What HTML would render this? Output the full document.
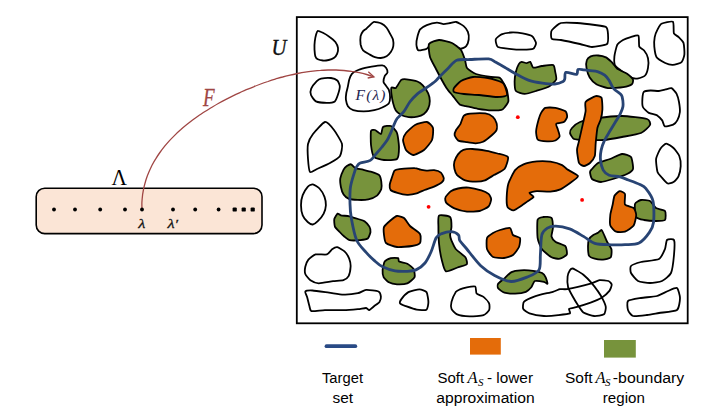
<!DOCTYPE html>
<html><head><meta charset="utf-8">
<style>
html,body{margin:0;padding:0;background:#fff;width:724px;height:417px;overflow:hidden}
svg{position:absolute;left:0;top:0}
.cal{font-family:"Liberation Sans",sans-serif;font-size:14px;fill:#000}
.ser{font-family:"Liberation Serif",serif;}
</style></head><body>
<svg width="724" height="417" viewBox="0 0 724 417">
<rect x="296.8" y="17.1" width="390.9" height="306.2" fill="#fff" stroke="#000" stroke-width="1.8"/>
<path d="M317.8,30.8 C318.5,30.6 321.7,32.2 322.9,32.8 C324.1,33.4 328.4,36.1 329.6,37.0 C330.9,37.9 334.6,40.9 335.4,42.0 C336.2,43.1 337.8,46.7 338.0,47.9 C338.2,49.1 337.5,52.8 337.1,53.8 C336.7,54.8 334.6,57.4 333.8,58.0 C333.0,58.6 329.8,59.8 328.7,60.0 C327.6,60.2 324.0,60.6 322.9,60.5 C321.8,60.4 318.6,59.7 317.8,59.3 C317.0,58.9 315.6,57.3 315.3,56.3 C315.0,55.3 314.6,51.1 314.5,49.6 C314.4,48.1 314.6,42.7 314.8,41.2 C315.0,39.7 315.8,35.5 316.1,34.5 C316.4,33.5 317.1,31.0 317.8,30.8Z" fill="#fff" stroke="#000" stroke-width="1.8" stroke-linejoin="round"/>
<path d="M374.0,21.9 C375.2,21.7 380.3,23.0 381.6,23.6 C382.9,24.2 385.8,26.7 386.6,27.7 C387.4,28.7 389.4,32.4 390.0,33.6 C390.6,34.8 392.7,38.2 393.0,39.5 C393.3,40.8 393.5,44.9 393.3,46.2 C393.1,47.5 391.5,51.1 390.8,52.1 C390.1,53.1 387.6,55.7 386.6,56.3 C385.6,56.9 382.0,57.9 380.8,58.0 C379.6,58.1 376.0,57.4 374.9,57.1 C373.8,56.8 371.1,55.3 369.9,54.6 C368.7,53.9 364.0,51.4 363.1,50.4 C362.2,49.4 360.9,45.9 360.6,44.5 C360.4,43.1 360.4,37.4 360.6,36.1 C360.9,34.8 362.5,31.9 363.1,31.1 C363.7,30.4 365.8,29.2 366.5,28.6 C367.2,28.0 369.1,25.9 369.9,25.2 C370.6,24.5 372.8,22.1 374.0,21.9Z" fill="#fff" stroke="#000" stroke-width="1.8" stroke-linejoin="round"/>
<path d="M420.1,29.4 C421.0,28.3 425.1,25.9 426.8,25.2 C428.5,24.5 435.2,22.8 436.9,22.7 C438.6,22.6 442.3,24.1 443.6,24.1 C444.9,24.1 449.0,23.2 450.3,23.0 C451.6,22.8 454.9,21.7 456.2,22.0 C457.5,22.3 462.5,25.1 463.7,26.1 C464.9,27.1 467.4,30.6 467.9,31.9 C468.4,33.2 468.9,38.1 468.7,39.5 C468.5,40.9 467.0,45.3 466.2,46.2 C465.4,47.1 461.8,48.8 460.4,48.7 C459.0,48.6 453.7,46.1 452.0,45.4 C450.3,44.7 445.6,42.2 443.6,42.0 C441.6,41.8 433.5,43.0 431.8,43.7 C430.1,44.4 428.1,48.0 426.8,48.7 C425.5,49.4 419.4,50.8 418.4,50.4 C417.4,50.0 416.5,45.9 416.4,44.5 C416.3,43.1 417.2,37.6 417.6,36.1 C418.0,34.6 419.2,30.5 420.1,29.4Z" fill="#fff" stroke="#000" stroke-width="1.8" stroke-linejoin="round"/>
<path d="M311.2,88.6 C311.8,87.2 315.8,82.1 316.8,81.1 C317.8,80.1 319.7,78.9 321.1,78.6 C322.5,78.3 329.4,77.8 331.0,78.0 C332.6,78.2 336.4,79.7 337.3,80.5 C338.2,81.3 339.7,84.7 339.8,86.1 C339.9,87.5 338.4,93.3 337.9,94.8 C337.4,96.3 335.9,100.7 334.8,101.5 C333.7,102.3 328.5,102.9 326.6,102.9 C324.7,102.9 317.5,102.2 315.9,101.4 C314.3,100.6 311.5,96.3 311.0,95.0 C310.5,93.7 310.6,90.0 311.2,88.6Z" fill="#fff" stroke="#000" stroke-width="1.8" stroke-linejoin="round"/>
<path d="M351.9,73.8 C352.7,72.9 355.8,71.1 357.1,70.5 C358.4,69.9 363.7,68.3 365.1,67.9 C366.6,67.5 369.9,66.9 371.6,66.6 C373.3,66.3 380.7,65.2 382.2,65.3 C383.7,65.4 385.7,67.2 386.2,67.9 C386.7,68.6 387.6,71.7 387.5,72.5 C387.4,73.3 385.2,74.9 384.8,75.8 C384.4,76.7 383.4,80.9 383.5,81.8 C383.6,82.7 385.0,84.3 385.5,85.1 C386.0,85.9 388.3,88.5 388.8,89.7 C389.3,91.0 390.1,96.2 390.1,97.6 C390.1,99.0 389.6,102.5 388.8,103.5 C388.0,104.5 383.6,106.8 382.2,107.5 C380.8,108.2 376.2,109.7 374.3,110.1 C372.4,110.5 365.8,111.4 363.7,111.4 C361.6,111.4 354.8,110.6 353.2,110.1 C351.6,109.6 348.6,107.2 347.9,106.2 C347.2,105.2 346.1,100.9 345.9,99.6 C345.7,98.3 346.1,94.3 346.3,93.0 C346.5,91.7 347.6,87.7 347.9,86.4 C348.2,85.1 348.8,81.1 349.2,79.8 C349.6,78.5 351.1,74.7 351.9,73.8Z" fill="#fff" stroke="#000" stroke-width="1.8" stroke-linejoin="round"/>
<path d="M495.8,39.2 C496.2,38.0 500.0,35.1 501.5,34.4 C503.0,33.7 509.0,32.6 511.1,32.5 C513.2,32.4 520.5,33.0 522.6,33.4 C524.7,33.8 530.9,35.3 532.2,36.3 C533.5,37.3 535.9,41.8 536.0,43.0 C536.1,44.2 534.5,48.1 533.2,48.8 C531.9,49.5 525.0,49.7 522.6,49.7 C520.2,49.7 511.7,49.1 509.2,48.8 C506.7,48.5 499.0,47.9 497.7,46.9 C496.4,45.9 495.4,40.5 495.8,39.2Z" fill="#fff" stroke="#000" stroke-width="1.8" stroke-linejoin="round"/>
<path d="M552.0,30.0 C553.0,28.9 558.5,23.7 561.0,23.0 C563.5,22.3 573.6,22.8 577.0,23.0 C580.4,23.2 592.1,24.6 595.0,25.0 C597.9,25.4 604.7,26.1 606.0,27.0 C607.3,27.9 607.9,32.3 608.0,34.0 C608.1,35.7 608.6,42.7 607.0,44.0 C605.4,45.3 594.7,47.0 592.0,47.0 C589.3,47.0 583.1,44.7 580.0,44.0 C576.9,43.3 563.8,40.5 561.0,40.0 C558.2,39.5 553.0,39.6 552.0,39.0 C551.0,38.4 551.0,34.9 551.0,34.0 C551.0,33.1 551.0,31.1 552.0,30.0Z" fill="#fff" stroke="#000" stroke-width="1.8" stroke-linejoin="round"/>
<path d="M657.6,29.4 C658.3,28.1 659.9,24.5 661.4,23.7 C662.9,22.9 671.6,20.8 672.9,21.8 C674.1,22.8 673.3,31.8 673.9,33.3 C674.5,34.8 677.7,36.1 678.7,37.1 C679.7,38.1 682.9,41.2 683.5,42.9 C684.1,44.6 684.6,52.5 684.4,54.4 C684.2,56.3 682.8,61.0 681.6,62.1 C680.5,63.2 674.5,64.8 672.9,64.9 C671.3,65.0 666.8,63.8 665.2,63.0 C663.6,62.2 657.7,58.9 656.6,57.3 C655.5,55.7 654.5,48.7 654.3,46.7 C654.1,44.7 654.4,38.8 654.7,37.1 C655.0,35.4 656.9,30.7 657.6,29.4Z" fill="#fff" stroke="#000" stroke-width="1.8" stroke-linejoin="round"/>
<path d="M614.4,56.3 C614.6,54.2 616.4,46.4 617.3,44.8 C618.2,43.2 621.7,40.8 623.0,40.0 C624.3,39.2 629.2,37.5 630.7,37.1 C632.2,36.7 637.5,34.6 638.4,35.6 C639.3,36.6 638.7,45.2 639.3,46.7 C639.9,48.2 643.2,49.4 644.1,50.5 C645.0,51.6 647.6,56.5 648.0,58.2 C648.4,59.9 648.3,66.1 648.0,67.8 C647.7,69.5 646.1,74.4 645.1,75.5 C644.1,76.6 639.8,78.2 638.4,78.4 C637.0,78.6 633.0,78.7 630.7,77.4 C628.4,76.2 617.0,68.0 615.4,65.9 C613.8,63.8 614.2,58.4 614.4,56.3Z" fill="#fff" stroke="#000" stroke-width="1.8" stroke-linejoin="round"/>
<path d="M643.8,91.9 C644.6,91.1 649.0,90.6 650.5,90.5 C652.0,90.4 657.4,91.1 658.9,91.0 C660.4,90.9 664.3,89.7 665.6,89.4 C666.9,89.1 670.4,87.8 671.5,88.2 C672.6,88.6 675.8,92.2 676.5,93.6 C677.2,95.0 678.7,100.2 679.0,102.0 C679.3,103.8 680.1,110.2 679.9,112.0 C679.7,113.8 678.0,119.1 677.3,120.4 C676.6,121.7 674.5,124.0 673.2,124.6 C672.0,125.2 665.9,126.7 664.8,126.3 C663.7,125.9 663.0,121.5 662.2,120.4 C661.4,119.3 658.5,116.2 657.2,115.4 C655.9,114.7 650.2,113.7 648.8,112.9 C647.4,112.1 643.5,108.4 642.9,107.0 C642.3,105.6 642.3,100.1 642.4,98.6 C642.5,97.1 643.0,92.7 643.8,91.9Z" fill="#fff" stroke="#000" stroke-width="1.8" stroke-linejoin="round"/>
<path d="M313.0,134.0 C314.7,131.8 322.9,122.4 325.0,122.0 C327.1,121.6 332.3,127.8 334.0,130.0 C335.7,132.2 341.4,141.4 342.0,144.0 C342.6,146.6 341.2,154.1 340.0,156.0 C338.8,157.9 332.3,161.7 330.0,163.0 C327.7,164.3 319.0,168.1 317.0,169.0 C315.0,169.9 310.9,173.0 310.0,172.0 C309.1,171.0 308.2,161.8 308.0,159.0 C307.8,156.2 307.5,146.5 308.0,144.0 C308.5,141.5 311.3,136.2 313.0,134.0Z" fill="#fff" stroke="#000" stroke-width="1.8" stroke-linejoin="round"/>
<path d="M302.7,195.2 C303.4,193.4 306.7,187.9 307.7,186.8 C308.7,185.7 311.6,184.1 312.8,184.3 C314.0,184.5 318.3,187.2 319.5,188.5 C320.7,189.8 323.9,195.2 324.5,196.9 C325.1,198.6 326.0,203.5 325.9,205.2 C325.8,206.9 324.5,212.0 323.7,213.6 C322.9,215.2 318.9,220.1 317.8,221.2 C316.7,222.3 313.8,224.4 312.8,224.5 C311.8,224.6 308.7,222.9 307.7,222.0 C306.7,221.1 303.4,217.0 302.7,215.3 C302.0,213.6 301.0,207.2 301.0,205.2 C301.0,203.2 302.0,197.0 302.7,195.2Z" fill="#fff" stroke="#000" stroke-width="1.8" stroke-linejoin="round"/>
<path d="M656.1,158.9 C656.4,156.6 659.4,150.2 660.4,148.7 C661.4,147.2 664.9,143.7 666.2,143.6 C667.5,143.5 672.2,146.8 673.5,148.0 C674.8,149.2 678.6,154.2 679.3,156.0 C680.0,157.8 680.8,164.1 680.7,166.1 C680.6,168.1 679.2,174.7 678.5,176.3 C677.8,177.9 674.6,181.4 673.5,182.1 C672.4,182.8 668.9,183.9 667.7,183.5 C666.5,183.1 662.9,178.9 661.9,177.7 C660.9,176.5 658.1,173.8 657.5,171.9 C656.9,170.0 655.8,161.2 656.1,158.9Z" fill="#fff" stroke="#000" stroke-width="1.8" stroke-linejoin="round"/>
<path d="M305.3,266.8 C305.6,265.4 307.4,260.8 308.4,259.6 C309.4,258.4 313.8,254.9 315.6,254.4 C317.5,253.9 325.2,254.9 326.9,254.4 C328.5,253.9 331.1,250.0 332.1,249.3 C333.1,248.6 336.0,247.0 337.2,247.2 C338.4,247.4 343.3,250.2 344.5,251.3 C345.7,252.4 348.6,257.1 349.2,258.6 C349.8,260.2 350.7,265.1 350.6,266.8 C350.5,268.6 349.3,274.8 348.6,276.1 C347.9,277.4 344.9,279.7 343.4,280.2 C341.8,280.7 335.6,280.9 333.1,281.2 C330.6,281.5 321.0,283.4 318.7,283.3 C316.4,283.2 311.7,281.1 310.4,280.2 C309.1,279.3 305.8,275.3 305.3,274.0 C304.8,272.7 305.0,268.2 305.3,266.8Z" fill="#fff" stroke="#000" stroke-width="1.8" stroke-linejoin="round"/>
<path d="M305.3,291.5 C305.8,290.8 310.1,290.4 312.5,290.5 C314.9,290.6 325.9,292.2 329.0,292.6 C332.1,293.0 340.5,294.5 343.4,294.6 C346.3,294.7 355.6,293.7 357.9,293.2 C360.2,292.7 364.0,290.1 366.1,289.9 C368.2,289.7 377.0,290.8 378.5,291.5 C380.0,292.2 380.8,295.7 380.9,296.7 C381.0,297.7 380.1,301.0 379.5,301.9 C378.9,302.8 375.4,305.2 374.4,306.0 C373.4,306.8 370.0,309.9 369.2,310.1 C368.4,310.3 367.2,308.1 366.1,308.0 C365.0,307.9 360.2,308.9 357.9,309.1 C355.6,309.3 346.7,310.0 343.4,310.1 C340.1,310.2 328.1,310.0 324.9,310.1 C321.7,310.2 313.1,311.5 311.5,311.1 C309.9,310.7 309.8,307.3 309.4,306.0 C309.0,304.7 307.7,299.1 307.3,297.7 C306.9,296.2 304.8,292.2 305.3,291.5Z" fill="#fff" stroke="#000" stroke-width="1.8" stroke-linejoin="round"/>
<path d="M401.4,299.1 C402.2,298.0 406.6,293.1 408.4,292.1 C410.2,291.1 417.7,289.4 419.5,289.4 C421.3,289.4 425.6,290.9 426.5,292.1 C427.4,293.4 428.4,300.1 428.4,301.9 C428.4,303.7 427.7,308.9 426.5,309.7 C425.3,310.5 418.8,310.1 416.7,309.7 C414.6,309.3 407.3,306.7 405.6,306.1 C403.9,305.5 400.4,304.0 400.0,303.3 C399.6,302.6 400.6,300.2 401.4,299.1Z" fill="#fff" stroke="#000" stroke-width="1.8" stroke-linejoin="round"/>
<path d="M451.5,301.9 C451.9,300.2 454.9,293.4 455.7,292.1 C456.5,290.9 458.8,289.9 459.9,289.4 C461.0,288.9 465.3,287.7 466.8,287.4 C468.3,287.1 474.2,286.0 475.2,286.6 C476.2,287.2 475.8,292.5 476.6,293.5 C477.4,294.5 482.2,295.9 483.5,296.9 C484.8,297.9 488.5,302.0 489.1,303.3 C489.7,304.6 489.7,309.0 489.1,310.2 C488.5,311.4 485.4,314.6 483.5,315.2 C481.6,315.8 472.2,316.5 469.6,316.4 C467.0,316.3 458.9,315.2 457.1,314.4 C455.3,313.6 452.1,310.1 451.5,308.8 C450.9,307.6 451.1,303.6 451.5,301.9Z" fill="#fff" stroke="#000" stroke-width="1.8" stroke-linejoin="round"/>
<path d="M631.0,266.0 C632.0,264.9 638.2,262.7 641.0,262.0 C643.8,261.3 656.6,260.3 659.0,259.0 C661.4,257.7 664.2,250.9 665.0,249.0 C665.8,247.1 666.1,240.9 667.0,240.0 C667.9,239.1 673.3,238.5 674.0,240.0 C674.7,241.5 674.3,251.7 674.0,255.0 C673.7,258.3 672.2,270.4 671.0,273.0 C669.8,275.6 664.1,280.0 662.0,281.0 C659.9,282.0 652.4,283.0 650.0,283.0 C647.6,283.0 639.9,282.0 638.0,281.0 C636.1,280.0 631.7,274.5 631.0,273.0 C630.3,271.5 630.0,267.1 631.0,266.0Z" fill="#fff" stroke="#000" stroke-width="1.8" stroke-linejoin="round"/>
<path d="M628.0,301.0 C629.3,299.8 638.1,298.5 641.0,298.0 C643.9,297.5 654.3,296.7 657.0,296.0 C659.7,295.3 666.0,291.8 668.0,291.0 C670.0,290.2 675.8,287.3 677.0,288.0 C678.2,288.7 680.0,295.8 680.0,298.0 C680.0,300.2 679.1,308.5 677.0,310.0 C674.9,311.5 662.0,312.5 659.0,313.0 C656.0,313.5 649.6,314.7 647.0,315.0 C644.4,315.3 634.9,316.5 633.0,316.0 C631.1,315.5 628.5,311.5 628.0,310.0 C627.5,308.5 626.7,302.2 628.0,301.0Z" fill="#fff" stroke="#000" stroke-width="1.8" stroke-linejoin="round"/>
<path d="M391.5,87.4 C391.9,86.8 394.8,88.8 395.8,88.0 C396.8,87.2 400.1,80.8 401.2,79.9 C402.3,79.0 405.0,79.1 406.6,79.3 C408.2,79.5 415.8,80.9 417.4,81.5 C419.0,82.1 421.7,84.1 422.8,85.3 C423.9,86.5 427.5,91.8 428.2,93.4 C428.9,95.0 429.8,99.4 429.8,100.9 C429.8,102.4 428.8,107.2 428.2,108.5 C427.6,109.8 425.0,113.1 423.9,113.9 C422.8,114.7 418.9,116.3 417.4,116.6 C415.9,116.9 410.4,117.3 408.8,117.1 C407.2,116.9 402.5,115.7 401.2,115.0 C399.9,114.3 396.6,111.8 395.8,110.6 C395.0,109.4 393.5,104.7 393.1,103.1 C392.7,101.5 391.7,96.0 391.5,94.4 C391.3,92.8 391.1,88.0 391.5,87.4Z" fill="#77933C" stroke="#000" stroke-width="1.8" stroke-linejoin="round"/>
<path d="M429.0,44.0 C429.9,42.3 436.7,40.1 439.0,40.0 C441.3,39.9 449.8,42.0 452.0,43.0 C454.2,44.0 459.7,48.3 461.0,50.0 C462.3,51.7 464.4,58.2 465.0,60.0 C465.6,61.8 465.9,66.6 467.0,68.0 C468.1,69.4 473.6,73.1 476.0,74.0 C478.4,74.9 488.6,76.6 491.0,77.0 C493.4,77.4 498.4,76.8 500.0,78.0 C501.6,79.2 505.9,87.1 506.7,89.4 C507.5,91.7 508.6,99.3 508.4,101.1 C508.2,102.9 505.4,106.3 504.7,107.2 C504.0,108.1 502.8,109.6 501.5,109.9 C500.2,110.2 494.2,110.5 491.8,110.4 C489.4,110.3 480.4,109.2 477.8,108.8 C475.2,108.4 467.7,106.5 465.9,106.1 C464.1,105.7 461.0,105.5 459.7,104.5 C458.4,103.5 454.3,97.8 453.0,96.1 C451.7,94.4 448.0,90.4 446.3,87.7 C444.6,85.0 437.6,72.1 436.0,69.0 C434.4,65.9 430.7,59.5 430.0,57.0 C429.3,54.5 428.1,45.7 429.0,44.0Z" fill="#77933C" stroke="#000" stroke-width="1.8" stroke-linejoin="round"/>
<path d="M518.8,64.1 C519.4,63.1 520.9,61.9 521.7,61.8 C522.5,61.7 525.6,63.2 526.5,63.2 C527.4,63.2 529.6,61.4 530.3,61.8 C531.0,62.2 532.1,67.2 533.2,67.6 C534.4,68.0 539.8,66.2 541.8,66.0 C543.8,65.8 552.0,64.5 553.3,65.1 C554.6,65.7 554.9,70.4 555.2,71.8 C555.5,73.2 556.8,78.1 556.2,79.5 C555.6,80.9 551.5,85.0 549.5,86.2 C547.5,87.4 538.5,90.2 536.0,91.0 C533.5,91.8 526.5,93.9 524.5,93.9 C522.5,93.9 516.9,92.2 515.9,91.0 C514.9,89.8 514.6,83.3 514.6,81.4 C514.6,79.5 515.5,73.5 515.9,71.8 C516.3,70.1 518.2,65.1 518.8,64.1Z" fill="#77933C" stroke="#000" stroke-width="1.8" stroke-linejoin="round"/>
<path d="M586.8,60.3 C587.2,59.1 589.6,56.9 590.7,56.4 C591.9,55.9 596.8,55.4 598.3,55.5 C599.8,55.6 604.6,56.7 606.0,57.4 C607.4,58.1 610.6,61.1 611.8,62.2 C612.9,63.4 616.0,67.8 617.5,68.9 C619.0,70.1 625.6,72.7 627.1,73.7 C628.6,74.8 632.4,78.4 632.9,79.4 C633.4,80.5 632.9,83.4 631.9,84.2 C630.9,85.0 625.7,86.7 623.3,87.1 C620.9,87.5 610.6,88.4 607.9,88.1 C605.2,87.8 598.2,85.3 596.4,84.2 C594.6,83.1 590.7,79.1 589.7,77.5 C588.7,75.9 586.8,69.6 586.5,67.9 C586.2,66.2 586.4,61.4 586.8,60.3Z" fill="#77933C" stroke="#000" stroke-width="1.8" stroke-linejoin="round"/>
<path d="M371.0,131.0 C371.4,129.5 374.0,129.7 375.0,130.0 C376.0,130.3 380.2,134.3 381.0,134.0 C381.8,133.7 382.0,127.8 383.0,127.0 C384.0,126.2 389.6,125.4 391.0,126.0 C392.4,126.6 396.2,130.9 397.0,133.0 C397.8,135.1 399.0,144.4 399.0,147.0 C399.0,149.6 398.5,157.7 397.0,159.0 C395.5,160.3 386.3,160.2 384.0,160.0 C381.7,159.8 375.3,158.5 374.0,157.0 C372.7,155.5 371.3,147.6 371.0,145.0 C370.7,142.4 370.6,132.5 371.0,131.0Z" fill="#77933C" stroke="#000" stroke-width="1.8" stroke-linejoin="round"/>
<path d="M351.1,164.3 C352.0,164.5 354.2,167.6 355.4,168.1 C356.6,168.6 361.4,169.3 363.0,169.7 C364.6,170.1 370.0,171.4 371.6,171.9 C373.2,172.4 378.2,174.1 379.2,175.1 C380.2,176.1 381.1,180.2 381.3,181.6 C381.5,183.0 381.7,187.7 381.3,189.1 C380.9,190.5 378.3,194.6 377.0,195.6 C375.7,196.6 370.3,199.0 368.4,199.4 C366.5,199.8 359.6,200.0 357.6,199.9 C355.7,199.8 350.3,199.3 348.9,198.8 C347.5,198.3 344.4,195.7 343.6,194.5 C342.8,193.3 341.2,188.6 340.9,187.0 C340.6,185.4 340.0,180.0 340.3,178.3 C340.6,176.6 343.0,170.9 343.6,169.7 C344.2,168.5 346.1,166.4 346.8,165.9 C347.6,165.4 350.2,164.1 351.1,164.3Z" fill="#77933C" stroke="#000" stroke-width="1.8" stroke-linejoin="round"/>
<path d="M334.3,219.0 C334.6,217.7 337.0,214.0 337.6,213.6 C338.2,213.2 339.6,215.0 340.8,215.3 C342.0,215.6 347.7,215.9 349.4,216.3 C351.1,216.7 356.6,218.5 358.1,219.0 C359.6,219.5 363.4,220.4 364.5,221.2 C365.6,222.0 368.8,225.5 369.4,226.6 C370.0,227.7 370.7,230.8 370.5,232.0 C370.3,233.2 368.8,237.7 367.8,238.5 C366.8,239.3 362.0,239.9 360.2,240.1 C358.4,240.3 351.0,240.5 349.4,240.1 C347.8,239.7 345.0,237.1 344.0,236.3 C343.0,235.5 340.6,233.0 339.7,232.0 C338.8,231.0 335.4,227.9 334.9,226.6 C334.4,225.3 334.0,220.3 334.3,219.0Z" fill="#77933C" stroke="#000" stroke-width="1.8" stroke-linejoin="round"/>
<path d="M439.0,215.6 C440.2,214.6 448.9,215.9 450.1,217.0 C451.4,218.1 451.5,224.9 451.5,226.7 C451.5,228.5 450.1,233.7 450.1,235.1 C450.1,236.5 450.9,239.2 451.5,240.6 C452.1,242.0 454.3,247.3 455.7,249.0 C457.1,250.7 464.3,255.8 465.4,257.3 C466.5,258.8 467.5,263.3 466.8,264.3 C466.1,265.3 460.6,266.4 458.5,267.1 C456.4,267.8 447.6,272.0 445.9,271.3 C444.2,270.6 442.5,262.9 441.8,260.1 C441.1,257.3 439.3,246.7 439.0,243.4 C438.7,240.1 438.4,229.5 438.4,226.7 C438.4,223.9 437.8,216.6 439.0,215.6Z" fill="#77933C" stroke="#000" stroke-width="1.8" stroke-linejoin="round"/>
<path d="M382.6,269.9 C382.7,268.3 383.9,262.8 384.7,261.6 C385.5,260.4 389.5,258.5 390.8,258.1 C392.1,257.8 397.3,257.8 398.1,258.1 C398.9,258.5 398.2,261.0 399.1,261.6 C400.0,262.2 405.9,263.0 407.3,263.7 C408.7,264.4 412.8,267.6 413.5,268.9 C414.2,270.2 415.2,275.7 414.6,277.1 C414.0,278.5 409.1,282.6 407.3,283.3 C405.5,284.0 398.9,284.4 397.0,284.3 C395.1,284.2 390.1,283.0 388.8,282.3 C387.5,281.6 384.2,278.3 383.6,277.1 C383.0,275.9 382.5,271.4 382.6,269.9Z" fill="#77933C" stroke="#000" stroke-width="1.8" stroke-linejoin="round"/>
<path d="M572.0,128.0 C573.0,126.9 577.4,123.0 580.0,122.0 C582.6,121.0 593.8,118.6 598.0,118.0 C602.2,117.4 617.1,115.9 622.0,116.0 C626.9,116.1 644.2,118.1 647.0,119.0 C649.8,119.9 650.6,123.6 650.0,125.0 C649.4,126.4 643.8,131.8 641.0,133.0 C638.2,134.2 625.7,136.3 622.0,137.0 C618.3,137.7 607.6,139.7 604.0,140.0 C600.4,140.3 589.0,140.1 586.0,140.0 C583.0,139.9 575.6,139.7 574.0,139.0 C572.4,138.3 570.2,134.1 570.0,133.0 C569.8,131.9 571.0,129.1 572.0,128.0Z" fill="#77933C" stroke="#000" stroke-width="1.8" stroke-linejoin="round"/>
<path d="M592.0,169.0 C592.8,168.1 596.2,164.0 598.0,163.0 C599.8,162.0 607.6,159.9 610.0,159.0 C612.4,158.1 619.9,154.2 622.0,154.0 C624.1,153.8 629.9,155.5 631.0,157.0 C632.1,158.5 633.4,167.3 633.0,169.0 C632.6,170.7 629.0,173.0 627.0,174.0 C625.0,175.0 615.6,178.2 613.0,179.0 C610.4,179.8 603.1,182.0 601.0,182.0 C598.9,182.0 593.1,180.0 592.0,179.0 C590.9,178.0 590.0,173.0 590.0,172.0 C590.0,171.0 591.2,169.9 592.0,169.0Z" fill="#77933C" stroke="#000" stroke-width="1.8" stroke-linejoin="round"/>
<path d="M635.0,204.0 C635.5,202.3 639.5,200.3 641.0,200.0 C642.5,199.7 648.5,200.2 650.0,201.0 C651.5,201.8 654.5,207.0 656.0,208.0 C657.5,209.0 664.1,209.8 665.0,211.0 C665.9,212.2 665.9,219.0 665.0,220.0 C664.1,221.0 658.1,221.0 656.0,221.0 C653.9,221.0 646.0,220.4 644.0,220.0 C642.0,219.6 636.9,218.6 636.0,217.0 C635.1,215.4 634.5,205.7 635.0,204.0Z" fill="#77933C" stroke="#000" stroke-width="1.8" stroke-linejoin="round"/>
<path d="M537.6,219.7 C538.2,217.6 541.8,217.2 543.2,217.0 C544.6,216.8 550.5,216.7 551.5,217.8 C552.5,218.9 552.9,226.2 552.9,228.1 C552.9,230.0 551.2,235.1 551.5,236.5 C551.8,237.9 554.3,241.0 555.7,242.0 C557.1,243.0 564.3,244.9 565.4,246.2 C566.5,247.4 567.3,253.2 566.8,254.5 C566.2,255.8 561.4,258.4 559.9,258.7 C558.4,259.0 553.3,258.3 551.5,257.3 C549.7,256.3 543.2,250.9 541.8,249.0 C540.4,247.1 538.0,240.7 537.6,237.8 C537.2,234.9 537.0,221.8 537.6,219.7Z" fill="#77933C" stroke="#000" stroke-width="1.8" stroke-linejoin="round"/>
<path d="M589.1,239.2 C589.6,238.1 592.4,235.7 593.3,235.1 C594.2,234.5 597.2,233.3 598.0,232.8 C598.8,232.3 601.0,229.7 601.6,230.0 C602.2,230.3 603.8,234.4 604.4,235.6 C605.0,236.8 606.5,240.7 607.2,242.0 C607.9,243.3 611.0,247.5 611.4,249.0 C611.8,250.5 611.6,256.2 610.8,257.3 C610.0,258.4 604.6,259.5 603.0,259.6 C601.4,259.7 596.1,259.1 594.7,258.7 C593.3,258.3 589.8,257.1 589.1,255.9 C588.4,254.7 588.0,247.9 588.0,246.2 C588.0,244.5 588.6,240.3 589.1,239.2Z" fill="#77933C" stroke="#000" stroke-width="1.8" stroke-linejoin="round"/>
<path d="M498.1,283.7 C498.7,282.7 503.1,279.5 504.4,278.3 C505.7,277.1 509.9,272.9 511.5,272.1 C513.1,271.3 518.3,270.4 520.5,270.3 C522.7,270.2 530.9,270.5 533.1,270.8 C535.3,271.1 540.8,272.3 542.1,273.0 C543.4,273.7 545.2,276.3 545.7,277.4 C546.2,278.5 547.7,283.2 547.5,283.7 C547.3,284.1 545.2,282.2 543.9,281.9 C542.6,281.6 536.2,280.5 534.9,281.0 C533.6,281.5 532.2,286.2 531.3,287.3 C530.4,288.4 527.5,291.2 525.9,291.8 C524.3,292.4 517.2,293.5 515.1,293.6 C513.0,293.7 506.1,293.2 504.4,292.7 C502.7,292.2 498.7,289.1 498.1,288.2 C497.5,287.3 497.5,284.7 498.1,283.7Z" fill="#77933C" stroke="#000" stroke-width="1.8" stroke-linejoin="round"/>
<path d="M454.0,88.0 C454.7,86.9 459.1,82.1 461.0,81.0 C462.9,79.9 470.3,77.3 473.0,77.0 C475.7,76.7 485.0,77.4 488.0,78.0 C491.0,78.6 501.1,81.3 503.0,83.0 C504.9,84.7 507.6,93.6 507.0,95.0 C506.4,96.4 499.8,97.0 497.0,97.0 C494.2,97.0 482.3,95.3 479.0,95.0 C475.7,94.7 466.5,94.3 464.0,94.0 C461.5,93.7 455.0,92.6 454.0,92.0 C453.0,91.4 453.3,89.1 454.0,88.0Z" fill="#E46C0A" stroke="#000" stroke-width="1.8" stroke-linejoin="round"/>
<path d="M406.0,133.0 C407.2,131.5 412.9,126.1 415.0,125.0 C417.1,123.9 425.2,121.7 427.0,122.0 C428.8,122.3 432.5,126.2 433.0,128.0 C433.5,129.8 432.9,137.8 432.0,140.0 C431.1,142.2 425.9,148.5 424.0,150.0 C422.1,151.5 414.8,155.0 413.0,155.0 C411.2,155.0 407.0,151.5 406.0,150.0 C405.0,148.5 403.0,141.7 403.0,140.0 C403.0,138.3 404.8,134.5 406.0,133.0Z" fill="#E46C0A" stroke="#000" stroke-width="1.8" stroke-linejoin="round"/>
<path d="M463.7,115.8 C464.7,114.8 468.0,113.8 470.2,113.6 C472.4,113.4 483.0,113.1 485.3,113.4 C487.6,113.7 491.8,115.9 492.9,116.9 C494.0,117.9 496.2,122.0 496.6,123.3 C497.0,124.6 497.1,128.6 496.6,129.8 C496.1,131.0 493.2,134.0 491.8,135.2 C490.4,136.4 484.7,140.9 483.1,141.7 C481.5,142.5 477.2,143.2 475.6,143.3 C474.0,143.4 468.7,142.5 467.0,142.2 C465.3,141.9 459.5,141.3 458.3,140.6 C457.1,139.9 454.8,136.3 454.6,135.2 C454.4,134.1 455.6,130.9 456.2,129.8 C456.8,128.7 459.8,125.3 460.5,123.9 C461.2,122.5 462.7,116.8 463.7,115.8Z" fill="#E46C0A" stroke="#000" stroke-width="1.8" stroke-linejoin="round"/>
<path d="M394.5,170.6 C395.3,169.7 397.3,169.4 399.3,169.2 C401.3,169.0 412.7,168.1 414.8,168.2 C416.9,168.2 419.4,169.5 420.6,169.7 C421.8,169.9 425.0,170.5 426.4,170.6 C427.8,170.7 432.7,170.0 434.1,170.2 C435.6,170.4 439.9,171.8 440.9,172.6 C441.9,173.4 443.7,177.4 443.8,178.4 C443.9,179.4 442.9,181.4 441.9,182.2 C440.9,183.0 435.8,185.8 434.1,186.6 C432.4,187.4 426.2,189.3 424.5,190.0 C422.8,190.7 418.4,192.9 416.7,193.4 C415.0,193.9 409.0,194.9 407.1,194.8 C405.2,194.8 399.0,193.4 397.4,192.9 C395.8,192.4 391.4,190.8 390.6,190.0 C389.8,189.2 389.6,186.3 389.7,185.1 C389.8,183.9 391.1,179.8 391.6,178.4 C392.1,177.0 393.7,171.5 394.5,170.6Z" fill="#E46C0A" stroke="#000" stroke-width="1.8" stroke-linejoin="round"/>
<path d="M454.4,161.6 C454.8,160.2 457.1,155.6 458.0,154.4 C458.9,153.2 462.0,150.4 463.4,149.9 C464.8,149.4 470.1,148.9 472.4,149.0 C474.7,149.1 484.2,150.4 486.7,150.8 C489.2,151.2 495.4,152.9 497.5,153.5 C499.6,154.1 507.3,155.6 508.0,157.1 C508.7,158.6 506.1,167.0 504.7,168.8 C503.3,170.6 495.9,173.9 493.9,175.1 C491.9,176.3 486.7,179.7 484.9,180.4 C483.1,181.1 478.0,181.7 476.0,181.7 C474.0,181.7 467.1,181.1 465.2,180.4 C463.3,179.7 458.2,176.3 457.1,175.1 C456.0,173.9 454.7,170.2 454.4,168.8 C454.1,167.5 454.0,163.0 454.4,161.6Z" fill="#E46C0A" stroke="#000" stroke-width="1.8" stroke-linejoin="round"/>
<path d="M445.4,197.5 C445.8,196.3 449.5,192.1 450.8,191.2 C452.1,190.3 456.2,188.9 458.0,188.5 C459.8,188.1 466.5,187.4 468.8,187.6 C471.1,187.8 479.3,189.7 481.3,190.3 C483.3,190.9 487.5,193.0 488.5,193.9 C489.5,194.8 491.2,198.0 491.2,199.3 C491.2,200.6 489.7,205.3 488.5,206.5 C487.3,207.7 481.8,210.5 479.6,211.0 C477.5,211.5 469.5,211.9 467.0,211.6 C464.5,211.3 456.5,209.2 454.4,208.3 C452.3,207.4 447.2,204.0 446.3,202.9 C445.4,201.8 444.9,198.7 445.4,197.5Z" fill="#E46C0A" stroke="#000" stroke-width="1.8" stroke-linejoin="round"/>
<path d="M545.3,107.8 C546.7,107.3 553.4,107.5 555.4,107.8 C557.4,108.1 564.3,110.3 565.5,111.2 C566.7,112.1 567.3,115.9 567.1,117.0 C566.9,118.1 564.9,121.4 563.8,122.1 C562.7,122.8 556.8,123.0 556.2,123.8 C555.6,124.5 557.6,128.3 557.9,129.6 C558.2,130.8 559.9,135.2 559.6,136.3 C559.4,137.4 556.7,140.0 555.4,140.5 C554.1,141.0 548.8,141.5 547.0,141.4 C545.2,141.3 538.9,140.7 537.8,139.7 C536.7,138.7 536.0,133.3 536.1,131.3 C536.2,129.3 538.1,121.4 538.6,119.6 C539.1,117.8 540.4,114.1 541.1,112.9 C541.8,111.7 543.9,108.3 545.3,107.8Z" fill="#E46C0A" stroke="#000" stroke-width="1.8" stroke-linejoin="round"/>
<path d="M585.6,101.9 C586.6,100.4 594.1,96.5 595.7,96.1 C597.3,95.7 600.8,96.5 601.5,97.8 C602.2,99.1 602.5,107.3 602.4,109.5 C602.3,111.7 601.2,117.8 600.7,119.6 C600.2,121.4 597.9,125.7 597.4,128.0 C596.9,130.3 596.0,140.3 595.7,143.1 C595.4,145.9 595.4,154.0 594.8,156.0 C594.2,158.0 591.1,162.0 590.0,163.0 C588.9,164.0 585.1,166.0 584.0,166.0 C582.9,166.0 579.7,164.6 579.0,163.0 C578.3,161.4 577.0,152.2 577.0,150.0 C577.0,147.8 578.3,144.1 578.9,141.4 C579.5,138.7 582.4,125.9 583.1,122.9 C583.8,119.9 585.4,113.3 585.6,111.2 C585.9,109.1 584.6,103.4 585.6,101.9Z" fill="#E46C0A" stroke="#000" stroke-width="1.8" stroke-linejoin="round"/>
<path d="M508.4,183.6 C509.2,180.9 513.6,172.0 515.1,170.1 C516.6,168.2 521.3,165.2 523.5,164.3 C525.7,163.4 534.2,161.7 536.9,161.4 C539.6,161.1 547.9,161.3 550.4,161.7 C552.9,162.1 560.4,164.3 562.1,165.1 C563.8,165.9 565.5,168.2 567.1,169.3 C568.7,170.4 577.7,174.7 578.0,176.0 C578.3,177.3 572.3,181.4 570.5,182.7 C568.7,184.0 562.4,188.5 560.4,189.4 C558.4,190.3 552.8,191.4 550.4,191.6 C548.0,191.8 539.0,191.0 536.9,191.1 C534.8,191.2 529.7,192.2 529.4,192.8 C529.1,193.4 533.8,196.2 533.6,197.0 C533.4,197.8 528.9,200.4 527.7,201.2 C526.5,202.0 523.2,204.5 521.8,205.4 C520.4,206.3 514.8,210.2 513.4,210.4 C512.0,210.6 508.3,208.4 507.6,207.1 C506.9,205.8 506.6,199.3 506.7,197.0 C506.8,194.7 507.6,186.3 508.4,183.6Z" fill="#E46C0A" stroke="#000" stroke-width="1.8" stroke-linejoin="round"/>
<path d="M614.5,195.7 C615.2,194.4 618.7,191.4 619.7,191.2 C620.8,191.0 624.5,192.7 625.0,194.0 C625.5,195.3 624.1,203.1 625.0,204.5 C625.9,205.9 632.6,206.9 633.7,208.0 C634.8,209.1 636.2,213.2 636.2,215.0 C636.2,216.8 634.8,223.8 633.7,225.5 C632.6,227.2 626.8,231.1 625.0,231.7 C623.2,232.3 617.7,232.3 616.2,231.7 C614.7,231.1 610.9,227.2 610.3,225.5 C609.7,223.8 610.1,217.1 610.3,215.0 C610.5,212.9 612.3,206.4 612.7,204.5 C613.1,202.6 613.8,197.0 614.5,195.7Z" fill="#E46C0A" stroke="#000" stroke-width="1.8" stroke-linejoin="round"/>
<path d="M384.0,227.0 C384.7,225.5 389.7,221.1 391.0,220.0 C392.3,218.9 395.7,216.2 397.0,216.0 C398.3,215.8 402.7,217.0 404.0,218.0 C405.3,219.0 408.4,224.4 410.0,226.0 C411.6,227.6 419.0,232.3 420.0,234.0 C421.0,235.7 420.8,241.8 420.0,243.0 C419.2,244.2 414.3,245.6 412.0,246.0 C409.7,246.4 399.6,247.3 397.0,247.0 C394.4,246.7 387.3,244.2 386.0,243.0 C384.7,241.8 384.2,236.6 384.0,235.0 C383.8,233.4 383.3,228.5 384.0,227.0Z" fill="#E46C0A" stroke="#000" stroke-width="1.8" stroke-linejoin="round"/>
<path d="M487.0,238.0 C487.6,236.4 491.7,233.8 493.0,233.0 C494.3,232.2 498.3,230.5 500.0,230.0 C501.7,229.5 508.7,227.5 510.0,228.0 C511.3,228.5 512.0,234.0 513.0,235.0 C514.0,236.0 519.4,236.8 520.0,238.0 C520.6,239.2 519.7,245.3 519.0,247.0 C518.3,248.7 514.5,253.9 513.0,255.0 C511.5,256.1 506.0,257.8 504.0,258.0 C502.0,258.2 494.7,257.9 493.0,257.0 C491.3,256.1 487.6,250.9 487.0,249.0 C486.4,247.1 486.4,239.6 487.0,238.0Z" fill="#E46C0A" stroke="#000" stroke-width="1.8" stroke-linejoin="round"/>
<path d="M524.1,301.7 C525.3,300.4 532.0,297.3 534.9,296.3 C537.8,295.3 550.3,292.5 552.8,291.8 C555.3,291.1 558.6,289.4 560.0,289.1 C561.4,288.8 564.1,289.6 567.2,289.1 C570.3,288.6 587.4,284.6 590.6,283.7 C593.8,282.8 597.7,280.4 599.5,280.1 C601.3,279.8 607.3,280.6 608.5,281.0 C609.7,281.4 611.6,283.6 611.7,284.6 C611.8,285.6 610.4,289.5 609.4,290.9 C608.4,292.2 603.2,296.9 601.3,298.1 C599.4,299.3 593.1,301.7 590.6,302.6 C588.1,303.5 578.4,306.5 576.2,307.1 C574.0,307.7 569.6,308.3 569.0,308.9 C568.4,309.5 571.0,312.8 569.9,313.4 C568.8,314.0 560.8,314.9 558.2,315.2 C555.6,315.5 546.8,316.2 543.9,316.0 C541.0,315.8 531.6,314.1 529.5,313.4 C527.4,312.7 523.7,310.1 523.2,308.9 C522.7,307.7 522.9,303.0 524.1,301.7Z" fill="none" stroke="#000" stroke-width="1.8" stroke-linejoin="round"/>
<path d="M572.6,268.5 C573.2,268.5 575.1,269.7 576.2,270.3 C577.3,270.9 582.0,273.6 583.4,274.8 C584.8,276.0 589.2,280.3 590.6,281.9 C592.0,283.5 596.5,289.1 597.7,290.9 C599.0,292.7 602.3,298.3 603.1,299.9 C603.9,301.5 605.7,305.7 605.8,307.1 C605.9,308.5 605.2,313.4 604.0,314.3 C602.8,315.2 596.2,316.2 594.1,316.0 C592.0,315.8 585.0,313.6 583.4,312.5 C581.8,311.4 579.1,306.9 578.0,305.3 C576.9,303.7 573.6,298.1 572.6,296.3 C571.6,294.5 568.6,289.3 568.1,287.3 C567.6,285.3 567.4,278.2 567.6,276.5 C567.8,274.8 569.4,271.1 569.9,270.3 C570.4,269.5 572.0,268.5 572.6,268.5Z" fill="none" stroke="#000" stroke-width="1.8" stroke-linejoin="round"/>
<path d="M456.8,60.3 C460.0,59.0 465.2,59.7 470.0,59.5 C474.8,59.3 484.9,58.5 488.7,58.9 C492.5,59.3 493.0,60.7 495.4,62.0 C497.8,63.3 502.0,65.7 505.0,67.5 C508.0,69.3 511.9,71.8 515.5,73.7 C519.1,75.6 525.0,79.0 529.0,80.4 C533.0,81.8 538.5,82.6 542.4,83.1 C546.3,83.6 551.8,84.2 554.9,84.0 C558.0,83.8 561.6,82.3 563.1,81.5 C564.6,80.7 564.4,80.0 564.8,78.6 C565.2,77.2 564.3,73.0 566.0,72.4 C567.7,71.8 574.6,74.8 576.4,74.4 C578.2,74.0 576.9,70.2 578.0,69.5 C579.1,68.8 582.1,69.7 583.9,69.9 C585.7,70.1 588.0,70.4 590.0,70.7 C592.0,71.0 595.3,70.9 597.5,71.6 C599.7,72.3 603.0,73.9 604.7,75.2 C606.4,76.5 607.7,78.2 609.0,80.2 C610.3,82.2 611.9,86.5 613.5,88.5 C615.1,90.5 618.5,92.3 619.8,93.5 C621.1,94.7 621.6,94.7 622.1,96.7 C622.6,98.7 623.3,104.0 622.9,106.8 C622.5,109.6 620.7,112.9 619.6,115.2 C618.5,117.5 616.8,119.6 615.4,121.9 C614.0,124.2 612.0,127.5 610.4,130.3 C608.8,133.1 605.9,137.4 604.5,140.4 C603.1,143.4 601.7,147.5 601.1,150.4 C600.5,153.3 600.2,157.0 600.5,160.0 C600.8,163.0 601.9,167.8 603.2,170.1 C604.5,172.4 606.6,174.2 609.1,175.2 C611.6,176.2 617.1,176.2 620.0,176.9 C622.9,177.6 625.5,178.9 628.5,180.0 C631.5,181.1 637.4,183.2 640.0,184.5 C642.6,185.8 644.0,186.2 646.0,188.7 C648.0,191.2 651.9,196.0 653.0,201.0 C654.1,206.0 654.1,217.3 653.6,222.0 C653.1,226.7 651.6,229.2 649.4,232.4 C647.2,235.6 642.7,241.2 639.0,243.0 C635.3,244.8 629.1,244.4 625.0,244.7 C620.9,245.0 615.9,245.0 611.4,244.8 C606.9,244.6 598.9,244.7 594.7,243.4 C590.5,242.1 587.3,238.6 583.5,236.4 C579.7,234.2 573.8,230.4 569.6,228.9 C565.4,227.4 559.0,226.2 555.7,226.1 C552.4,226.0 549.4,226.8 547.3,228.1 C545.2,229.4 542.8,231.0 541.8,235.0 C540.8,239.0 540.8,249.3 540.4,254.5 C540.0,259.7 540.9,266.6 539.0,269.9 C537.1,273.2 532.0,275.1 527.8,276.8 C523.6,278.5 516.1,281.7 511.1,281.5 C506.1,281.3 499.2,277.8 494.6,275.4 C490.0,273.0 484.9,269.7 480.7,265.7 C476.5,261.7 469.9,252.8 466.8,249.0 C463.7,245.2 461.0,242.7 459.8,240.6 C458.6,238.5 459.7,236.3 458.5,235.0 C457.3,233.7 454.0,231.9 451.5,231.7 C449.0,231.5 444.1,232.7 441.8,233.6 C439.5,234.5 437.8,235.0 436.2,237.8 C434.6,240.6 432.7,248.2 431.0,252.0 C429.3,255.8 427.2,260.3 425.0,263.0 C422.8,265.7 418.7,268.7 416.0,269.9 C413.3,271.1 410.4,271.2 407.3,271.3 C404.2,271.4 398.7,271.6 395.0,270.9 C391.3,270.2 385.7,268.3 382.6,266.8 C379.5,265.3 376.9,262.8 374.4,260.6 C371.9,258.4 368.8,255.5 366.1,252.4 C363.4,249.3 358.8,245.1 356.6,240.0 C354.4,234.9 352.4,224.2 351.4,218.7 C350.4,213.2 350.1,208.4 350.0,203.6 C349.9,198.8 349.7,191.8 350.5,186.8 C351.3,181.8 354.2,173.1 355.2,170.0 C356.2,166.9 356.1,167.4 356.9,166.3 C357.6,165.2 358.2,163.9 360.2,163.0 C362.2,162.1 367.9,161.8 370.3,160.4 C372.7,159.0 374.4,155.7 376.2,153.7 C378.0,151.7 380.4,149.0 382.0,147.0 C383.6,145.0 385.8,142.3 387.1,140.3 C388.4,138.3 389.4,135.9 390.4,133.6 C391.4,131.3 392.8,127.5 393.8,125.2 C394.8,122.9 395.6,120.5 397.1,118.5 C398.6,116.5 401.9,114.2 403.8,111.7 C405.7,109.2 407.8,104.7 409.8,102.0 C411.8,99.3 415.0,96.0 417.4,93.9 C419.8,91.8 423.4,89.9 426.0,88.0 C428.6,86.1 432.9,83.3 435.0,81.5 C437.1,79.7 438.0,78.2 440.0,76.2 C442.0,74.2 445.9,70.3 448.4,67.9 C450.9,65.5 453.6,61.6 456.8,60.3Z" fill="none" stroke="#284474" stroke-width="2.8" stroke-linejoin="round"/>
<circle cx="517.8" cy="117.2" r="1.9" fill="#f00"/>
<circle cx="428.6" cy="206.8" r="1.9" fill="#f00"/>
<circle cx="582.1" cy="199.9" r="1.9" fill="#f00"/>
<text x="355.5" y="99.8" class="ser" font-style="italic" font-size="15.5" fill="#1e2550" textLength="30" lengthAdjust="spacing">F(λ)</text>
<text x="0" y="0" class="ser" font-style="italic" font-size="23.5" fill="#111" stroke="#111" stroke-width="0.35" transform="translate(271.5,54.6) scale(0.88,1)">U</text>
<!-- lambda box -->
<rect x="36.2" y="188.2" width="225.8" height="45.4" rx="8.5" fill="#FBE5D6" stroke="#000" stroke-width="1.6"/>
<path d="M142.0,210.4 C142.0,209.1 141.8,205.1 141.9,202.5 C142.0,199.9 142.3,197.3 142.6,194.7 C143.0,192.2 143.4,189.6 144.0,187.1 C144.6,184.6 145.3,182.1 146.0,179.7 C146.8,177.2 147.7,174.8 148.7,172.5 C149.7,170.1 150.8,167.8 151.9,165.5 C153.1,163.3 154.3,161.0 155.7,158.9 C157.0,156.7 158.4,154.6 159.9,152.5 C161.4,150.4 162.9,148.4 164.5,146.4 C166.1,144.4 167.8,142.5 169.5,140.6 C171.3,138.7 173.1,136.9 174.9,135.1 C176.7,133.3 178.6,131.5 180.6,129.8 C182.5,128.1 184.5,126.4 186.5,124.8 C188.5,123.2 190.5,121.6 192.6,120.0 C194.7,118.5 196.8,117.0 198.9,115.5 C201.0,114.1 203.2,112.6 205.4,111.2 C207.6,109.9 209.8,108.5 212.0,107.2 C214.2,105.9 216.4,104.6 218.7,103.3 C221.0,102.0 223.2,100.8 225.5,99.6 C227.8,98.4 230.1,97.3 232.4,96.1 C234.7,95.0 237.1,93.9 239.4,92.8 C241.7,91.7 244.1,90.7 246.4,89.7 C248.8,88.7 251.2,87.7 253.6,86.8 C255.9,85.8 258.3,84.9 260.7,84.0 C263.1,83.1 265.5,82.3 268.0,81.5 C270.4,80.6 272.8,79.8 275.3,79.1 C277.7,78.4 280.2,77.6 282.6,77.0 C285.1,76.3 287.6,75.7 290.1,75.1 C292.6,74.5 295.1,74.0 297.6,73.5 C300.1,73.0 302.7,72.5 305.2,72.1 C307.8,71.7 310.3,71.4 312.9,71.1 C315.4,70.8 318.0,70.5 320.6,70.4 C323.2,70.2 325.8,70.1 328.3,70.0 C330.9,70.0 333.5,70.0 336.1,70.0 C338.7,70.1 341.3,70.3 343.9,70.5 C346.5,70.7 349.1,71.0 351.6,71.4 C354.2,71.7 356.7,72.2 359.2,72.7 C361.8,73.2 364.2,73.8 366.7,74.5 C369.1,75.2 372.7,76.4 373.9,76.8" fill="none" stroke="#A04644" stroke-width="1.3"/>
<path d="M368.3,71.8 L373.9,76.8 L367.7,78" fill="none" stroke="#A04644" stroke-width="1.3"/>
<text x="0" y="0" class="ser" font-style="italic" font-size="25" fill="#A04644" stroke="#A04644" stroke-width="0.3" transform="translate(203,105.6) scale(0.76,1)">F</text>
<text x="0" y="0" class="ser" font-size="23" fill="#000" transform="translate(111.5,184.8) scale(0.93,1)">Λ</text>
<g fill="#000">
<circle cx="54" cy="209.5" r="1.9"/><circle cx="75" cy="209.5" r="1.9"/><circle cx="100.2" cy="209.5" r="1.9"/><circle cx="125" cy="209.5" r="1.9"/><circle cx="142" cy="209.5" r="1.9"/>
<circle cx="173" cy="209.5" r="1.9"/><circle cx="195.2" cy="209.5" r="1.9"/><circle cx="218.6" cy="209.5" r="1.9"/><rect x="232.6" y="207.4" width="4.2" height="4.2" rx="1.2"/><rect x="241.6" y="207.4" width="4.2" height="4.2" rx="1.2"/><rect x="250.6" y="207.4" width="4.2" height="4.2" rx="1.2"/>
</g>
<text x="0" y="0" class="ser" font-style="italic" font-size="13" fill="#111" stroke="#111" stroke-width="0.25" transform="translate(138.3,227.8) scale(1.25,1)">λ</text>
<text x="0" y="0" class="ser" font-style="italic" font-size="13" fill="#111" stroke="#111" stroke-width="0.25" transform="translate(167.5,227.8) scale(1.25,1)">λ′</text>
<!-- legend -->
<line x1="326.5" y1="346.2" x2="355.3" y2="346.2" stroke="#294A85" stroke-width="3.8" stroke-linecap="round"/>
<rect x="470" y="338" width="30.8" height="16.6" fill="#E46C0A"/>
<rect x="604" y="340" width="31.8" height="17.6" fill="#77933C"/>
<text x="322" y="382.5" class="cal" textLength="41" lengthAdjust="spacingAndGlyphs">Target</text>
<text x="332.5" y="403" class="cal" textLength="20.6" lengthAdjust="spacingAndGlyphs">set</text>
<text x="437.5" y="382.5" class="cal" textLength="26.6" lengthAdjust="spacingAndGlyphs">Soft</text>
<text x="467.5" y="382.5" class="ser" font-style="italic" font-size="16.5">A</text>
<text x="478" y="385.8" class="ser" font-style="italic" font-size="11">S</text>
<text x="487" y="382.5" class="cal" textLength="46" lengthAdjust="spacingAndGlyphs">- lower</text>
<text x="436.3" y="403" class="cal" textLength="98.3" lengthAdjust="spacingAndGlyphs">approximation</text>
<text x="565" y="382.5" class="cal" textLength="27.5" lengthAdjust="spacingAndGlyphs">Soft</text>
<text x="595.5" y="382.5" class="ser" font-style="italic" font-size="16.5">A</text>
<text x="605" y="385.8" class="ser" font-style="italic" font-size="11">S</text>
<text x="612.8" y="382.5" class="cal" textLength="71.5" lengthAdjust="spacingAndGlyphs">-boundary</text>
<text x="602.8" y="403" class="cal" textLength="42" lengthAdjust="spacingAndGlyphs">region</text>
</svg>
</body></html>
